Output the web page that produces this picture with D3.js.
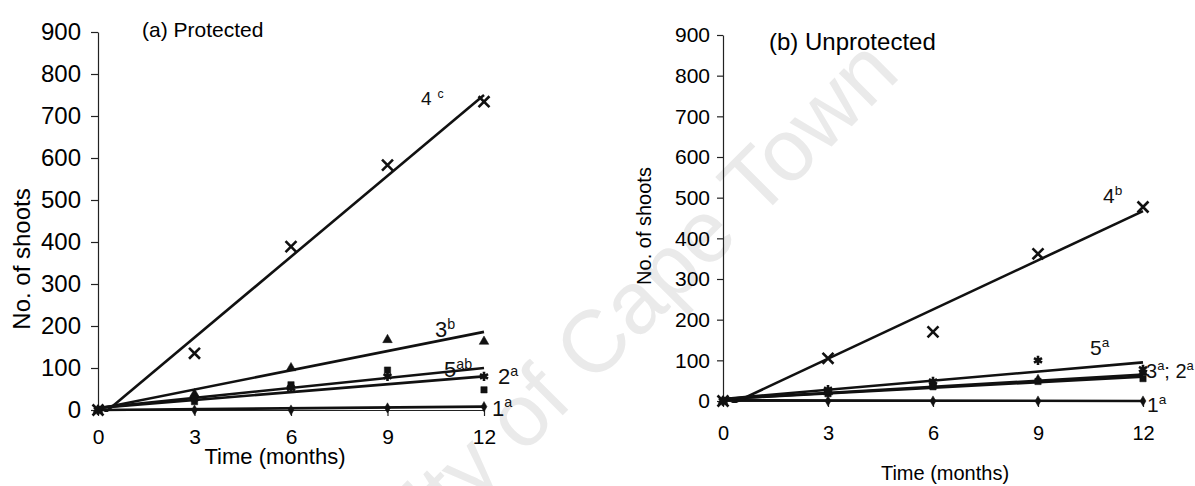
<!DOCTYPE html>
<html>
<head>
<meta charset="utf-8">
<script src="https://cdn.jsdelivr.net/npm/d3@7"></script>
<style>
  body { margin: 0; background: #fff; }
  svg { display: block; font-family: "Liberation Sans", Arial, sans-serif; }
</style>
</head>
<body>
<div id="chart"></div>
<script>
// Number of shoots over 12 months, protected vs unprotected
const months = [0, 3, 6, 9, 12];
const yTicks = [0, 100, 200, 300, 400, 500, 600, 700, 800, 900];
const seriesIds = ['1', '2', '3', '4', '5'];

// (a) Protected - observed values per series
const protS1 = [0, 0, 0, 5, 8];
const protS2 = [0, 20, 60, 95, 48];
const protS3 = [0, 38, 100, 167, 163];
const protS4 = [0, 135, 389, 583, 734];
const protS5 = [0, 28, 52, 80, 80];
// trend line values at month 0 and month 12
const protTrend1 = [0, 8];
const protTrend2 = [5, 80];
const protTrend3 = [3, 186];
const protTrend4 = [-20, 750];
const protTrend5 = [5, 100];
const protLetters = ['a', 'a', 'b', 'c', 'ab'];

// (b) Unprotected
const unprS1 = [0, 0, 0, 0, 0];
const unprS2 = [0, 18, 35, 48, 55];
const unprS3 = [0, 22, 40, 52, 70];
const unprS4 = [0, 105, 170, 362, 477];
const unprS5 = [0, 28, 48, 100, 78];
const unprTrend1 = [2, 0];
const unprTrend2 = [5, 60];
const unprTrend3 = [5, 65];
const unprTrend4 = [-17, 467];
const unprTrend5 = [5, 95];
const unprLetters = ['a', 'a', 'a', 'b', 'a'];

const W = 1195, H = 486;
const svg = d3.select('#chart').append('svg')
  .attr('width', W)
  .attr('height', H);

// faint scan watermark
svg.append('text')
  .attr('transform', 'translate(902,76) rotate(-45)')
  .attr('text-anchor', 'end')
  .attr('font-size', 88)
  .attr('fill', '#eaeaea')
  .text('University of Cape Town');

const markerTypes = [
  { type: d3.symbolDiamond, size: 30, fill: true },
  { type: d3.symbolSquare, size: 40, fill: true },
  { type: d3.symbolTriangle, size: 40, fill: true },
  { type: d3.symbolTimes || d3.symbolCross, size: 80, fill: false },
  { type: d3.symbolAsterisk || d3.symbolCross, size: 60, fill: false }
];

function drawPanel(p) {
  const x = d3.scaleLinear().domain([0, 12]).range([p.left, p.right]);
  const y = d3.scaleLinear().domain([0, 900]).range([p.bottom, p.top]);
  const g = svg.append('g');

  g.append('clipPath').attr('id', p.id + '-clip')
    .append('rect')
    .attr('x', p.left).attr('y', p.top - 5)
    .attr('width', p.right - p.left + 5)
    .attr('height', p.bottom - p.top + 7);

  // axes
  const yAxis = g.append('g')
    .attr('transform', `translate(${p.left},0)`)
    .call(d3.axisLeft(y).tickValues(yTicks).tickSize(p.yTickSize)
      .tickSizeOuter(0).tickPadding(p.yPad));
  yAxis.selectAll('text').attr('font-size', p.yFont).attr('font-family', null);

  const xAxis = g.append('g')
    .attr('transform', `translate(0,${p.bottom})`)
    .call(d3.axisBottom(x).tickValues(months).tickSize(6)
      .tickSizeOuter(0).tickPadding(p.xPad));
  xAxis.selectAll('text').attr('font-size', p.xFont).attr('font-family', null);
  g.selectAll('.domain, .tick line').attr('stroke', '#222').attr('stroke-width', 1.2);

  // trend lines
  const line = d3.line().x(d => x(d[0])).y(d => y(d[1]));
  p.trends.forEach(t => {
    g.append('path')
      .attr('clip-path', `url(#${p.id}-clip)`)
      .attr('d', line([[0, t[0]], [12, t[1]]]))
      .attr('fill', 'none')
      .attr('stroke', '#111')
      .attr('stroke-width', 2.6);
  });

  // observed points
  p.series.forEach((vals, i) => {
    const m = markerTypes[i];
    g.selectAll(null)
      .data(vals.map((v, k) => [months[k], v]))
      .join('path')
      .attr('transform', d => `translate(${x(d[0])},${y(d[1])})`)
      .attr('d', d3.symbol().type(m.type).size(m.size))
      .attr('fill', m.fill ? '#111' : 'none')
      .attr('stroke', '#111')
      .attr('stroke-width', m.fill ? 0.5 : 2.6);
  });

  // series labels with significance letters
  p.labels.forEach(l => {
    const t = g.append('text')
      .attr('x', x(12) + l.dx)
      .attr('y', y(p.trends[l.idx][1]) + l.dy)
      .attr('font-size', l.font)
      .attr('fill', '#111');
    l.parts.forEach(part => {
      t.append('tspan')
        .attr('dy', part.sup ? -l.font * 0.38 : (part.back ? l.font * 0.38 : 0))
        .attr('font-size', part.sup ? l.font * 0.65 : l.font)
        .attr('dx', part.dx || 0)
        .text(part.t);
    });
  });

  // titles
  g.append('text')
    .attr('x', p.titleX).attr('y', p.titleY)
    .attr('font-size', p.titleFont)
    .text(p.title);
  g.append('text')
    .attr('transform', `translate(${p.yTitleX},${p.yTitleY}) rotate(-90)`)
    .attr('text-anchor', 'middle')
    .attr('font-size', p.yTitleFont)
    .text('No. of shoots');
  g.append('text')
    .attr('x', p.xTitleX).attr('y', p.xTitleY)
    .attr('text-anchor', 'middle')
    .attr('font-size', p.xTitleFont)
    .text('Time (months)');
}

function simpleLabel(idx, letter, dx, dy, font, gap) {
  return {
    idx, dx, dy, font,
    parts: [{ t: seriesIds[idx] }, { t: letter, sup: true, dx: gap || 0 }]
  };
}

drawPanel({
  id: 'prot', left: 98, right: 484, top: 32, bottom: 410,
  yTickSize: 7, yPad: 10, yFont: 24, xPad: 13, xFont: 21,
  series: [protS1, protS2, protS3, protS4, protS5],
  trends: [protTrend1, protTrend2, protTrend3, protTrend4, protTrend5],
  labels: [
    simpleLabel(3, protLetters[3], -63, 10, 19, 6),
    simpleLabel(2, protLetters[2], -49, 5, 22),
    simpleLabel(4, protLetters[4], -40, 9, 22),
    simpleLabel(1, protLetters[1], 14, 8, 22),
    simpleLabel(0, protLetters[0], 8, 9, 22)
  ],
  title: '(a) Protected', titleX: 142, titleY: 37, titleFont: 21,
  yTitleX: 30, yTitleY: 259, yTitleFont: 24,
  xTitleX: 275, xTitleY: 464, xTitleFont: 22
});

drawPanel({
  id: 'unpr', left: 723, right: 1143, top: 35, bottom: 401,
  yTickSize: 6, yPad: 7, yFont: 21, xPad: 19, xFont: 20,
  series: [unprS1, unprS2, unprS3, unprS4, unprS5],
  trends: [unprTrend1, unprTrend2, unprTrend3, unprTrend4, unprTrend5],
  labels: [
    simpleLabel(3, unprLetters[3], -40, -8, 21),
    simpleLabel(4, unprLetters[4], -53, -7, 21),
    {
      idx: 2, dx: 3, dy: 3, font: 20,
      parts: [
        { t: seriesIds[2] }, { t: unprLetters[2], sup: true },
        { t: '; ' + seriesIds[1], back: true }, { t: unprLetters[1], sup: true }
      ]
    },
    simpleLabel(0, unprLetters[0], 4, 11, 21)
  ],
  title: '(b) Unprotected', titleX: 769, titleY: 50, titleFont: 24,
  yTitleX: 651, yTitleY: 226, yTitleFont: 20,
  xTitleX: 945, xTitleY: 480, xTitleFont: 20
});
</script>
</body>
</html>
